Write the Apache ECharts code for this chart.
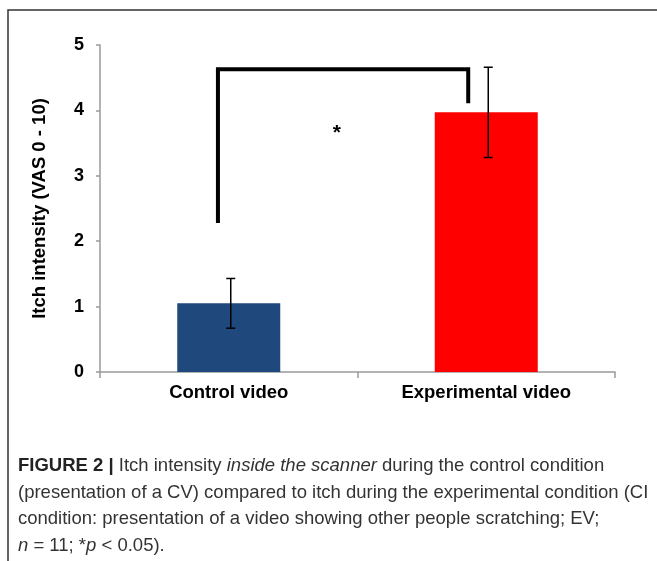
<!DOCTYPE html>
<html>
<head>
<meta charset="utf-8">
<style>
  html, body { margin: 0; padding: 0; background: #fff; }
  #chart { width: 657px; height: 561px; }
</style>
<script src="https://cdn.jsdelivr.net/npm/echarts@6/dist/echarts.min.js"></script>
</head>
<body>
<div id="chart"></div>
<script>
// data
const categories = ['Control video', 'Experimental video']
const means = [1.05, 3.97]
const errors = [0.38, 0.69]
const yTicks = [0, 1, 2, 3, 4, 5]
// significance bracket: left leg bottom, top, right leg bottom (VAS units)
const bracket = [2.28, 4.63, 4.11]
const starY = 3.7

const barColors = ['#1f497d', '#ff0000']

const chart = echarts.init(document.getElementById('chart'))

const boldFont = '"Liberation Sans", Arial, sans-serif'

chart.setOption({
  animation: false,
  grid: {
    left: 100,
    right: 42,
    top: 45,
    bottom: 189
  },
  xAxis: {
    type: 'category',
    data: categories,
    axisLine: { lineStyle: { color: '#9a9a9a', width: 1.5 } },
    axisTick: { show: true, length: 6, lineStyle: { color: '#9a9a9a', width: 1.5 } },
    axisLabel: {
      color: '#000',
      fontFamily: boldFont,
      fontWeight: 'bold',
      fontSize: 18.5,
      margin: 11
    }
  },
  yAxis: {
    type: 'value',
    min: yTicks[0],
    max: yTicks[yTicks.length - 1],
    interval: 1,
    name: 'Itch intensity (VAS 0 - 10)',
    nameLocation: 'middle',
    nameGap: 51,
    nameTextStyle: {
      color: '#000',
      fontFamily: boldFont,
      fontWeight: 'bold',
      fontSize: 18.5
    },
    splitLine: { show: false },
    axisLine: { show: true, lineStyle: { color: '#9a9a9a', width: 1.5 } },
    axisTick: { show: true, length: 4, lineStyle: { color: '#9a9a9a', width: 1.5 } },
    axisLabel: {
      color: '#000',
      fontFamily: boldFont,
      fontWeight: 'bold',
      fontSize: 18,
      margin: 16
    }
  },
  series: [
    {
      type: 'bar',
      barWidth: '40%',
      data: means.map((v, i) => ({ value: v, itemStyle: { color: barColors[i] } }))
    },
    {
      type: 'custom',
      data: means.map((m, i) => [i, m - errors[i], m + errors[i]]),
      renderItem(params, api) {
        const lo = api.coord([api.value(0), api.value(1)])
        const hi = api.coord([api.value(0), api.value(2)])
        const x = lo[0] + 2
        const cap = 4.5
        const style = { stroke: '#000', lineWidth: 1.5 }
        return {
          type: 'group',
          children: [
            { type: 'line', shape: { x1: x, y1: lo[1], x2: x, y2: hi[1] }, style },
            { type: 'line', shape: { x1: x - cap, y1: lo[1], x2: x + cap, y2: lo[1] }, style },
            { type: 'line', shape: { x1: x - cap, y1: hi[1], x2: x + cap, y2: hi[1] }, style }
          ]
        }
      },
      z: 5
    },
    {
      type: 'custom',
      data: [bracket],
      renderItem(params, api) {
        const band = api.size([1, 0])[0]
        const a = api.coord([0, api.value(0)])
        const t0 = api.coord([0, api.value(1)])
        const t1 = api.coord([1, api.value(1)])
        const b = api.coord([1, api.value(2)])
        const xl = a[0] - band * 0.042
        const xr = b[0] - band * 0.07
        const star = api.coord([0, starY])
        return {
          type: 'group',
          children: [
            {
              type: 'polyline',
              shape: { points: [[xl, a[1]], [xl, t0[1]], [xr, t1[1]], [xr, b[1]]] },
              style: { stroke: '#000', lineWidth: 4, fill: null, lineJoin: 'miter' }
            },
            {
              type: 'text',
              x: star[0] + band * 0.42,
              y: star[1] + 3,
              style: {
                text: '*',
                fill: '#000',
                font: 'bold 21px "Liberation Sans", Arial, sans-serif',
                align: 'center',
                verticalAlign: 'middle'
              }
            }
          ]
        }
      },
      z: 6
    }
  ],
  graphic: [
    {
      type: 'rect',
      shape: { x: 8, y: 10, width: 700, height: 600 },
      style: { fill: null, stroke: '#333', lineWidth: 1.5 },
      silent: true
    },
    {
      type: 'text',
      left: 18,
      top: 453,
      style: {
        text: [
          '{b|FIGURE 2 |} Itch intensity {i|inside the scanner} during the control condition',
          '(presentation of a CV) compared to itch during the experimental condition (CI',
          'condition: presentation of a video showing other people scratching; EV;',
          '{i|n} = 11; *{i|p} < 0.05).'
        ].join('\n'),
        fill: '#333',
        font: '18.5px "Liberation Sans", Arial, sans-serif',
        lineHeight: 26.5,
        rich: {
          b: { fontWeight: 'bold', fontSize: 18.5, fill: '#222', fontFamily: boldFont, lineHeight: 26.5 },
          i: { fontStyle: 'italic', fontSize: 18.5, fill: '#333', fontFamily: boldFont, lineHeight: 26.5 }
        }
      }
    }
  ]
})
</script>
</body>
</html>
